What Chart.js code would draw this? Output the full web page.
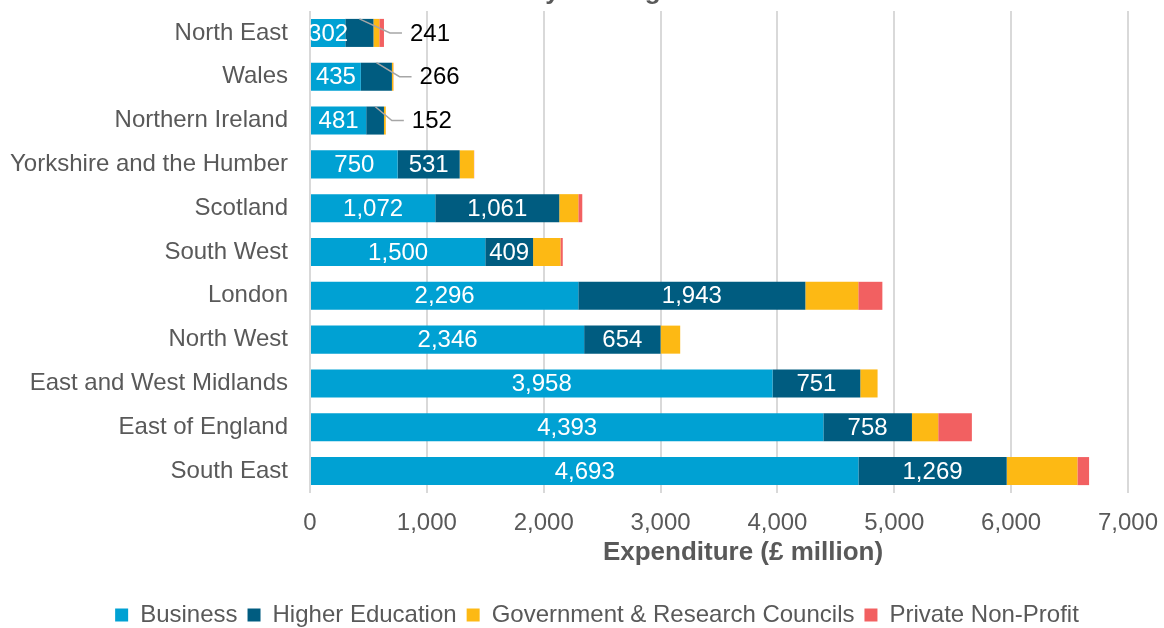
<!DOCTYPE html>
<html>
<head>
<meta charset="utf-8">
<script src="https://cdn.jsdelivr.net/npm/chart.js@4/dist/chart.umd.min.js"></script>
<style>
    html, body { margin: 0; padding: 0; background: #ffffff; }
    #wrap { width: 1164px; height: 628px; position: relative; }
</style>
</head>
<body>
<div id="wrap"><canvas id="graficoRegioes"></canvas></div>
<script>
const regions = ['North East', 'Wales', 'Northern Ireland', 'Yorkshire and the Humber', 'Scotland',
    'South West', 'London', 'North West', 'East and West Midlands', 'East of England', 'South East'];
const business = [302, 435, 481, 750, 1072, 1500, 2296, 2346, 3958, 4393, 4693];
const higherEducation = [241, 266, 152, 531, 1061, 409, 1943, 654, 751, 758, 1269];
const government = [50, 12, 15, 122, 163, 234, 453, 168, 148, 225, 605];
const privateNonProfit = [40, 2, 1, 2, 34, 20, 206, 0, 0, 288, 100];
const xTicks = [0, 1000, 2000, 3000, 4000, 5000, 6000, 7000];

const FONT = '"Liberation Sans", Arial, sans-serif';
const GREY = '#595959';

Chart.defaults.font.family = FONT;
Chart.defaults.color = GREY;

const fmt = v => v.toLocaleString('en-GB');

// values printed on the business and higher education segments;
// a segment too narrow for its number gets a leader line instead
const valueLabels = {
    id: 'valueLabels',
    afterDatasetsDraw(chart) {
        const { ctx, chartArea } = chart;
        const x = chart.scales.x;
        ctx.save();
        ctx.font = '24px ' + FONT;
        ctx.textBaseline = 'middle';
        [0, 1].forEach(di => {
            const meta = chart.getDatasetMeta(di);
            meta.data.forEach((bar, i) => {
                const p = bar.getProps(['x', 'base', 'y', 'height'], true);
                const value = chart.data.datasets[di].data[i];
                const text = fmt(value);
                const w = ctx.measureText(text).width;
                const left = Math.min(p.x, p.base);
                const right = Math.max(p.x, p.base);
                if (di === 0 || w <= right - left) {
                    ctx.save();
                    ctx.beginPath();
                    ctx.rect(chartArea.left, chartArea.top, chartArea.right - chartArea.left, chartArea.bottom - chartArea.top);
                    ctx.clip();
                    ctx.fillStyle = '#ffffff';
                    ctx.textAlign = 'center';
                    ctx.fillText(text, (left + right) / 2, p.y + 1);
                    ctx.restore();
                } else {
                    const total = business[i] + higherEducation[i] + government[i] + privateNonProfit[i];
                    const lx = x.getPixelForValue(total) + 26;
                    ctx.strokeStyle = '#a6a6a6';
                    ctx.lineWidth = 1.5;
                    ctx.beginPath();
                    ctx.moveTo((left + right) / 2, p.y - p.height / 2);
                    ctx.lineTo(lx - 20, p.y);
                    ctx.lineTo(lx - 8, p.y);
                    ctx.stroke();
                    ctx.fillStyle = '#000000';
                    ctx.textAlign = 'left';
                    ctx.fillText(text, lx, p.y + 1);
                }
            });
        });
        ctx.restore();
    }
};

// heading sits above the top edge, only its lower part shows;
// the axis title is set a little right of the plot centre
const titles = {
    id: 'titles',
    afterDraw(chart) {
        const { ctx, chartArea } = chart;
        ctx.save();
        ctx.font = 'bold 26px ' + FONT;
        ctx.fillStyle = GREY;
        ctx.textAlign = 'center';
        ctx.textBaseline = 'alphabetic';
        ctx.fillText('country and region', chart.width / 2, -1);
        ctx.textBaseline = 'middle';
        ctx.fillText('Expenditure (£ million)', (chartArea.left + chartArea.right) / 2 + 24, chartArea.bottom + 60);
        ctx.restore();
    }
};

// legend row sits a bit right of the canvas centre
const legendShift = {
    id: 'legendShift',
    afterLayout(chart) {
        chart.legend.left += 66;
    }
};

const ctx = document.getElementById('graficoRegioes');

new Chart(ctx, {
    type: 'bar',
    data: {
        labels: regions,
        datasets: [
            { label: 'Business', data: business, backgroundColor: '#00a1d3' },
            { label: 'Higher Education', data: higherEducation, backgroundColor: '#005c80' },
            { label: 'Government & Research Councils', data: government, backgroundColor: '#fdb914' },
            { label: 'Private Non-Profit', data: privateNonProfit, backgroundColor: '#f26061' }
        ]
    },
    options: {
        indexAxis: 'y',
        responsive: true,
        maintainAspectRatio: false,
        animation: false,
        datasets: {
            bar: { barPercentage: 0.64, categoryPercentage: 1, borderWidth: 0 }
        },
        layout: { padding: { top: 11, right: 36, bottom: -9, left: 0 } },
        scales: {
            x: {
                stacked: true,
                min: 0,
                max: 7000,
                afterBuildTicks: s => { s.ticks = xTicks.map(v => ({ value: v })); },
                afterFit: s => { s.height = 100; s.paddingLeft = 0; s.paddingRight = 0; },
                grid: { color: '#d9d9d9', lineWidth: 2, drawTicks: false },
                border: { display: false },
                ticks: { font: { size: 24 }, color: GREY, padding: 16, callback: v => fmt(v) }
            },
            y: {
                stacked: true,
                afterFit: s => { s.width = 310; s.paddingTop = 0; s.paddingBottom = 0; },
                grid: { display: false },
                border: { display: false },
                ticks: { font: { size: 24 }, color: GREY, padding: 14 }
            }
        },
        plugins: {
            legend: {
                position: 'bottom',
                labels: { boxWidth: 13, boxHeight: 13, padding: 10, font: { size: 24 }, color: GREY }
            },
            tooltip: { enabled: false }
        }
    },
    plugins: [valueLabels, titles, legendShift]
});
</script>
</body>
</html>
